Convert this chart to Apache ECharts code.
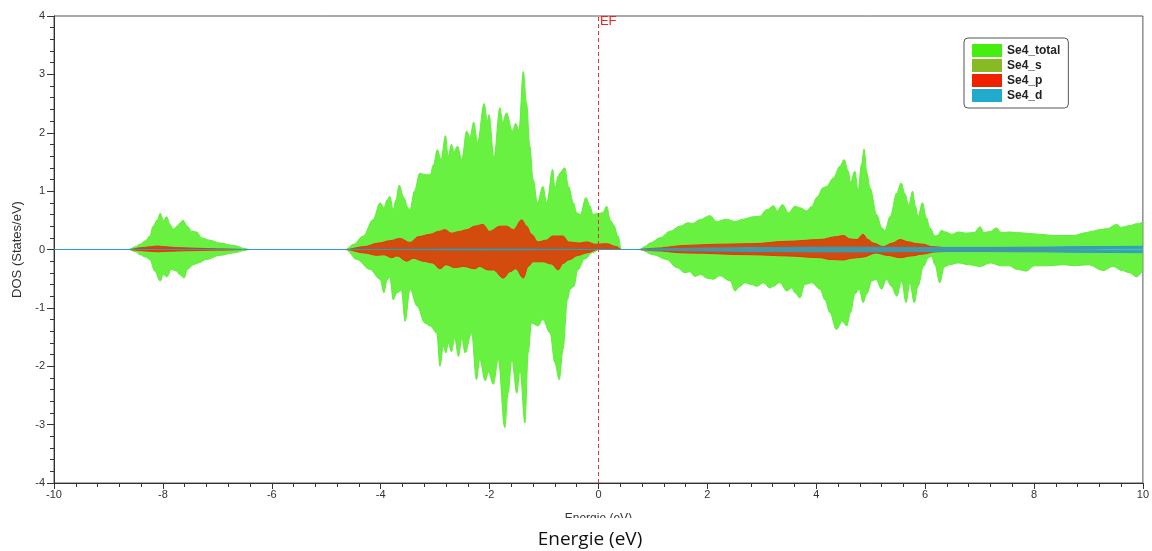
<!DOCTYPE html>
<html>
<head>
<meta charset="utf-8">
<script src="https://cdn.jsdelivr.net/npm/echarts@6/dist/echarts.min.js"></script>
<style>
html,body{margin:0;padding:0;background:#fff;}
#chart{width:1152px;height:551px;}
</style>
</head>
<body>
<div id="chart"></div>
<script>
// ---- Data: [energy (eV), DOS (states/eV)] ----
const xTicks = [-10, -8, -6, -4, -2, 0, 2, 4, 6, 8, 10];
const yTicks = [-4, -3, -2, -1, 0, 1, 2, 3, 4];
const legendNames = ['Se4_total', 'Se4_s', 'Se4_p', 'Se4_d'];
const fermiEnergy = 0;

const totalUp = [
 [-10,0],[-8.62,0],[-8.5,0.05],[-8.42,0.09],[-8.32,0.15],[-8.24,0.23],[-8.18,0.40],[-8.10,0.51],[-8.05,0.62],[-7.99,0.50],[-7.93,0.56],[-7.87,0.43],[-7.81,0.35],[-7.74,0.40],[-7.69,0.45],[-7.63,0.50],[-7.55,0.40],[-7.47,0.31],[-7.38,0.30],[-7.29,0.20],[-7.14,0.16],[-6.95,0.11],[-6.71,0.07],[-6.46,0.01],[-6.42,0],
 [-4.64,0],[-4.5,0.09],[-4.32,0.23],[-4.14,0.51],[-4.01,0.80],[-3.94,0.72],[-3.88,0.85],[-3.83,0.91],[-3.77,0.68],[-3.72,0.85],[-3.66,1.10],[-3.58,0.90],[-3.50,0.72],[-3.46,0.68],[-3.38,1.00],[-3.28,1.31],[-3.22,1.29],[-3.16,1.28],[-3.09,1.28],[-3.03,1.45],[-2.96,1.71],[-2.89,1.54],[-2.81,1.95],[-2.76,1.60],[-2.70,1.80],[-2.65,1.68],[-2.59,1.77],[-2.51,1.54],[-2.42,2.03],[-2.36,1.92],[-2.29,2.18],[-2.22,1.83],[-2.10,2.50],[-2.04,2.20],[-2.01,2.31],[-1.92,1.57],[-1.81,2.43],[-1.76,2.18],[-1.69,2.34],[-1.58,2.03],[-1.52,2.16],[-1.46,2.05],[-1.38,3.05],[-1.32,2.50],[-1.26,1.77],[-1.20,1.20],[-1.12,0.80],[-1.02,1.08],[-0.95,0.80],[-0.84,1.37],[-0.80,1.05],[-0.74,1.25],[-0.71,1.31],[-0.62,1.40],[-0.55,1.08],[-0.46,0.80],[-0.40,0.63],[-0.33,0.60],[-0.23,0.89],[-0.16,0.75],[-0.10,0.60],[0.01,0.62],[0.08,0.63],[0.15,0.74],[0.22,0.50],[0.28,0.42],[0.36,0.23],[0.42,0],
 [0.76,0],[0.85,0.05],[0.95,0.11],[1.13,0.20],[1.31,0.31],[1.50,0.40],[1.65,0.46],[1.72,0.44],[1.86,0.51],[2.05,0.58],[2.17,0.48],[2.35,0.52],[2.51,0.48],[2.66,0.52],[2.84,0.56],[2.96,0.57],[3.09,0.68],[3.22,0.75],[3.28,0.66],[3.38,0.77],[3.49,0.63],[3.61,0.74],[3.72,0.71],[3.82,0.66],[3.92,0.74],[4.01,0.89],[4.13,1.06],[4.19,1.08],[4.31,1.22],[4.44,1.43],[4.51,1.54],[4.59,1.34],[4.63,1.15],[4.71,1.34],[4.77,1.00],[4.83,1.45],[4.88,1.72],[4.93,1.31],[4.99,1.05],[5.11,0.60],[5.20,0.38],[5.26,0.32],[5.36,0.57],[5.48,0.97],[5.56,1.14],[5.63,0.95],[5.70,0.76],[5.77,1.00],[5.82,0.75],[5.87,0.56],[5.95,0.80],[6.02,0.55],[6.09,0.37],[6.18,0.23],[6.24,0.25],[6.30,0.33],[6.38,0.30],[6.49,0.26],[6.61,0.30],[6.75,0.28],[6.90,0.29],[7.01,0.39],[7.08,0.29],[7.20,0.31],[7.31,0.37],[7.40,0.29],[7.55,0.30],[7.68,0.29],[7.85,0.28],[8.11,0.26],[8.35,0.24],[8.72,0.24],[8.97,0.29],[9.05,0.31],[9.21,0.34],[9.35,0.36],[9.52,0.43],[9.60,0.38],[9.76,0.41],[9.88,0.44],[10,0.47]
];

const totalDn = [
 [-10,0],[-8.62,0],[-8.5,-0.04],[-8.42,-0.09],[-8.32,-0.13],[-8.24,-0.17],[-8.15,-0.37],[-8.05,-0.54],[-7.99,-0.43],[-7.93,-0.47],[-7.84,-0.34],[-7.75,-0.37],[-7.69,-0.43],[-7.61,-0.49],[-7.55,-0.34],[-7.44,-0.26],[-7.35,-0.23],[-7.20,-0.17],[-6.95,-0.10],[-6.71,-0.06],[-6.46,-0.01],[-6.42,0],
 [-4.64,0],[-4.44,-0.17],[-4.20,-0.34],[-4.01,-0.51],[-3.94,-0.74],[-3.88,-0.52],[-3.83,-0.48],[-3.77,-0.86],[-3.70,-0.74],[-3.62,-0.70],[-3.55,-1.23],[-3.46,-0.68],[-3.33,-0.97],[-3.19,-1.26],[-3.09,-1.31],[-2.97,-1.43],[-2.91,-2.00],[-2.85,-1.66],[-2.80,-1.77],[-2.76,-1.60],[-2.70,-1.75],[-2.64,-1.52],[-2.57,-1.83],[-2.51,-1.52],[-2.45,-1.77],[-2.33,-1.43],[-2.24,-2.23],[-2.18,-1.88],[-2.08,-2.25],[-2.02,-2.10],[-1.93,-2.31],[-1.84,-1.88],[-1.72,-3.05],[-1.66,-2.46],[-1.59,-1.88],[-1.50,-2.46],[-1.44,-2.06],[-1.35,-2.97],[-1.29,-1.77],[-1.23,-1.26],[-1.11,-1.31],[-1.02,-1.20],[-0.89,-1.43],[-0.80,-1.94],[-0.72,-2.23],[-0.65,-1.71],[-0.57,-0.86],[-0.52,-0.68],[-0.45,-0.63],[-0.38,-0.35],[-0.25,-0.16],[-0.10,-0.05],[0,0],
 [0.76,0],[1.01,-0.09],[1.25,-0.17],[1.44,-0.31],[1.59,-0.40],[1.68,-0.38],[1.77,-0.46],[1.88,-0.43],[1.99,-0.49],[2.11,-0.51],[2.23,-0.45],[2.42,-0.54],[2.51,-0.71],[2.60,-0.63],[2.69,-0.57],[2.81,-0.60],[2.91,-0.63],[3.03,-0.57],[3.15,-0.66],[3.21,-0.63],[3.33,-0.57],[3.46,-0.71],[3.55,-0.66],[3.61,-0.74],[3.70,-0.83],[3.79,-0.60],[3.92,-0.57],[4.07,-0.68],[4.16,-0.86],[4.25,-1.08],[4.37,-1.37],[4.48,-1.23],[4.56,-1.31],[4.63,-1.08],[4.71,-0.76],[4.79,-0.68],[4.86,-0.91],[4.93,-0.76],[5.02,-0.54],[5.10,-0.51],[5.20,-0.68],[5.29,-0.51],[5.38,-0.63],[5.48,-0.80],[5.57,-0.54],[5.65,-0.91],[5.72,-0.57],[5.80,-0.91],[5.87,-0.63],[5.97,-0.29],[6.06,-0.14],[6.12,-0.12],[6.18,-0.26],[6.27,-0.57],[6.35,-0.30],[6.45,-0.26],[6.61,-0.23],[6.80,-0.26],[7.01,-0.29],[7.20,-0.23],[7.40,-0.28],[7.55,-0.28],[7.68,-0.34],[7.86,-0.37],[8.00,-0.28],[8.25,-0.28],[8.54,-0.26],[8.75,-0.28],[9.00,-0.26],[9.27,-0.36],[9.45,-0.29],[9.62,-0.36],[9.76,-0.40],[9.88,-0.47],[10,-0.36]
];

const sUp = [[-10,0],[-8.62,0],[-8.2,0.02],[-7.8,0.03],[-7.4,0.025],[-7.0,0.01],[-6.42,0],[-4.64,0],[-3.5,0.01],[-2.0,0.015],[-1.0,0.01],[0.4,0],[0.76,0],[2.0,0.005],[6.0,0.01],[8.0,0.015],[10,0.02]];
const sDn = [[-10,0],[-8.62,0],[-8.2,-0.02],[-7.8,-0.025],[-7.4,-0.02],[-7.0,-0.01],[-6.42,0],[-4.64,0],[-3.5,-0.01],[-2.0,-0.015],[-1.0,-0.01],[0,0],[0.76,0],[2.0,-0.005],[6.0,-0.01],[8.0,-0.015],[10,-0.02]];

const pUp = [
 [-10,0],[-8.62,0],[-8.4,0.03],[-8.2,0.05],[-8.1,0.06],[-8.0,0.05],[-7.85,0.04],[-7.7,0.03],[-7.4,0.02],[-7.0,0.01],[-6.42,0],
 [-4.64,0],[-4.3,0.05],[-4.04,0.11],[-3.83,0.15],[-3.65,0.19],[-3.46,0.12],[-3.31,0.22],[-3.09,0.26],[-2.94,0.31],[-2.82,0.34],[-2.70,0.28],[-2.55,0.31],[-2.42,0.34],[-2.27,0.40],[-2.12,0.43],[-2.00,0.31],[-1.81,0.40],[-1.69,0.40],[-1.56,0.34],[-1.41,0.51],[-1.32,0.40],[-1.23,0.26],[-1.11,0.13],[-0.96,0.16],[-0.84,0.23],[-0.65,0.23],[-0.55,0.13],[-0.35,0.11],[-0.22,0.13],[-0.05,0.09],[0.15,0.10],[0.33,0.05],[0.42,0],
 [0.76,0],[1.0,0.02],[1.62,0.07],[2.17,0.09],[2.84,0.10],[3.46,0.14],[4.07,0.17],[4.37,0.22],[4.50,0.24],[4.62,0.18],[4.75,0.17],[4.86,0.26],[4.95,0.17],[5.05,0.11],[5.23,0.05],[5.40,0.11],[5.54,0.17],[5.70,0.13],[5.85,0.10],[5.97,0.09],[6.12,0.05],[6.40,0.03],[7.0,0.03],[8.0,0.025],[9.0,0.03],[10,0.03]
];

const pDn = [
 [-10,0],[-8.62,0],[-8.4,-0.02],[-8.1,-0.04],[-7.9,-0.03],[-7.6,-0.02],[-7.0,-0.01],[-6.42,0],
 [-4.64,0],[-4.3,-0.06],[-4.07,-0.10],[-3.94,-0.09],[-3.80,-0.14],[-3.70,-0.11],[-3.52,-0.20],[-3.40,-0.15],[-3.22,-0.20],[-3.05,-0.23],[-2.91,-0.33],[-2.80,-0.26],[-2.64,-0.31],[-2.48,-0.29],[-2.27,-0.33],[-2.18,-0.29],[-2.03,-0.35],[-1.93,-0.35],[-1.75,-0.49],[-1.62,-0.38],[-1.52,-0.33],[-1.38,-0.49],[-1.29,-0.29],[-1.20,-0.21],[-1.02,-0.21],[-0.86,-0.25],[-0.74,-0.35],[-0.65,-0.24],[-0.55,-0.18],[-0.37,-0.10],[-0.22,-0.06],[0,0],
 [0.76,0],[1.0,-0.02],[1.62,-0.06],[2.84,-0.09],[3.46,-0.11],[4.07,-0.14],[4.25,-0.17],[4.50,-0.18],[4.65,-0.15],[4.86,-0.13],[5.10,-0.06],[5.30,-0.10],[5.54,-0.14],[5.75,-0.11],[5.95,-0.08],[6.20,-0.04],[6.50,-0.03],[8.0,-0.025],[10,-0.03]
];

const dUp = [[-10,0],[-4.64,0],[-2.0,0.008],[0.4,0],[0.7,0],[1.0,0.01],[2.0,0.025],[3.0,0.035],[4.0,0.04],[5.0,0.04],[6.0,0.035],[7.0,0.035],[8.0,0.04],[9.0,0.05],[10,0.055]];
const dDn = [[-10,0],[-4.64,0],[-2.0,-0.008],[0,0],[0.7,0],[1.0,-0.01],[2.0,-0.025],[3.0,-0.035],[4.0,-0.04],[5.0,-0.04],[6.0,-0.035],[7.0,-0.035],[8.0,-0.04],[9.0,-0.05],[10,-0.055]];

const colors = {Se4_total:'#44ee11', Se4_s:'#88bb22', Se4_p:'#ee2200', Se4_d:'#22aacc'};

function area(name, data, lineColor, opacity, z) {
  return {
    name: name, type: 'line', data: data, symbol: 'none', smooth: 0.35, smoothMonotone: 'x',
    z: z, color: colors[name],
    lineStyle: {color: lineColor, width: 1},
    areaStyle: {color: colors[name], opacity: opacity, origin: 0},
    emphasis: {disabled: true}, silent: true
  };
}

const chart = echarts.init(document.getElementById('chart'), null, {renderer: 'canvas'});
const series = [
  area('Se4_total', totalUp, '#5fee3a', 0.8, 2),
  area('Se4_total', totalDn, '#5fee3a', 0.8, 2),
  area('Se4_s', sUp, '#88bb22', 0.8, 3),
  area('Se4_s', sDn, '#88bb22', 0.8, 3),
  area('Se4_p', pUp, '#e83410', 0.8, 4),
  area('Se4_p', pDn, '#e83410', 0.8, 4),
  area('Se4_d', dUp, '#2a9fc0', 0.85, 5),
  area('Se4_d', dDn, '#2a9fc0', 0.85, 5),
  {
    name: 'EF', type: 'line', data: [], z: 10, silent: true,
    markLine: {
      silent: true, symbol: 'none', animation: false,
      lineStyle: {color: '#e83030', type: [4, 3], width: 1, opacity: 1},
      label: {show: false},
      emphasis: {disabled: true},
      data: [{xAxis: fermiEnergy}]
    },
    markPoint: {
      silent: true, symbol: 'rect', symbolSize: 1, animation: false,
      itemStyle: {color: 'rgba(0,0,0,0)'},
      label: {show: true, position: 'right', distance: 1, formatter: 'EF', color: '#f02020', opacity: 1, fontSize: 13, fontFamily: 'Liberation Sans', textBorderWidth: 0},
      emphasis: {disabled: true},
      data: [{coord: [fermiEnergy, 3.91]}]
    }
  }
];

const axisFont = {color: '#333', fontSize: 11, fontFamily: 'Liberation Sans'};
chart.setOption({
  animation: false,
  backgroundColor: '#fff',
  grid: {left: 54, right: 9, top: 16, bottom: 68, show: true, borderColor: '#555', borderWidth: 1, containLabel: false},
  legend: {
    left: 964, top: 38, orient: 'vertical', padding: [6, 8, 6, 8],
    itemWidth: 30, itemHeight: 13, itemGap: 2,
    borderColor: '#555', borderWidth: 1, borderRadius: 4, backgroundColor: '#fff',
    textStyle: {fontSize: 12, fontWeight: 'bold', color: '#222', fontFamily: 'Liberation Sans'},
    selectedMode: false,
    data: legendNames.map(n => ({name: n, icon: 'rect', itemStyle: {color: colors[n], opacity: 1, borderWidth: 0}}))
  },
  xAxis: {
    type: 'value', min: xTicks[0], max: xTicks[xTicks.length - 1], interval: 2,
    name: 'Energie (eV)', nameLocation: 'middle', nameGap: 30,
    nameTextStyle: {fontSize: 12, color: '#333', fontFamily: 'Liberation Sans'},
    axisLine: {show: true, onZero: false, lineStyle: {color: '#333', width: 1}},
    axisTick: {show: true, length: 6, lineStyle: {color: '#333'}},
    minorTick: {show: true, splitNumber: 5, length: 4, lineStyle: {color: '#333'}},
    splitLine: {show: false},
    axisLabel: Object.assign({margin: 6}, axisFont)
  },
  yAxis: {
    type: 'value', min: yTicks[0], max: yTicks[yTicks.length - 1], interval: 1,
    name: 'DOS (States/eV)', nameLocation: 'middle', nameGap: 29,
    nameTextStyle: {fontSize: 13, color: '#333', fontFamily: 'Liberation Sans'},
    axisLine: {show: true, onZero: false, lineStyle: {color: '#333', width: 1}},
    axisTick: {show: true, length: 7, lineStyle: {color: '#333'}},
    minorTick: {show: true, splitNumber: 5, length: 4, lineStyle: {color: '#333'}},
    splitLine: {show: false},
    axisLabel: Object.assign({margin: 9}, axisFont)
  },
  series: series,
  graphic: [
    {type: 'rect', left: 0, top: 518, shape: {width: 1152, height: 33}, style: {fill: '#fff'}, z: 100, silent: true},
    {type: 'text', x: 590, y: 540, z: 101, silent: true,
     style: {text: 'Energie (eV)', font: '19px "Open Sans"', fill: '#111', textAlign: 'center', textVerticalAlign: 'middle'}}
  ]
});
</script>
</body>
</html>
